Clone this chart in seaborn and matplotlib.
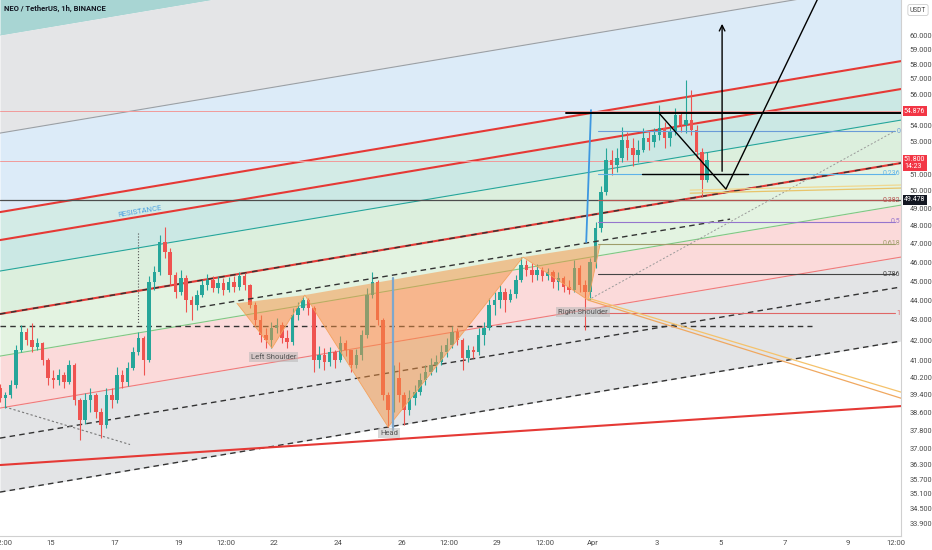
import matplotlib
matplotlib.use("Agg")
import matplotlib.pyplot as plt
import matplotlib.dates as mdates
import matplotlib.transforms as mtransforms
from matplotlib.ticker import FixedLocator, FixedFormatter, NullLocator
import numpy as np
import pandas as pd
import seaborn as sns

sns.set_theme(style="white")
plt.rcParams["font.family"] = ["Roboto", "DejaVu Sans"]

# 4h candles, Mar 13 08:00 -> Apr 4 12:00
first_open = 39.71
closes = [39.24, 39.38, 39.85, 41.51, 42.39, 42.00, 41.66, 41.86, 41.03, 40.17,
          40.08, 40.32, 39.99, 40.79, 39.15, 38.25, 39.15, 39.38, 38.61, 38.03,
          39.38, 39.15, 40.32, 39.99, 40.65, 41.41, 42.10, 41.03, 44.95, 45.48,
          47.10, 46.55, 45.32, 44.43, 45.16, 44.01, 43.75, 44.27, 44.79, 45.05,
          44.63, 44.89, 44.53, 44.95, 44.69, 45.26, 44.79, 43.75, 42.99, 42.25,
          42.00, 42.59, 42.74, 42.10, 41.90, 43.25, 43.60, 44.01, 43.60, 41.03,
          41.27, 40.94, 41.41, 41.03, 41.86, 41.51, 40.79, 41.27, 42.25, 44.27,
          44.95, 42.99, 39.38, 38.70, 40.17, 39.38, 38.70, 39.24, 39.52, 40.08,
          40.46, 40.79, 40.94, 41.41, 41.76, 42.39, 42.00, 41.13, 41.51, 41.41,
          42.25, 42.59, 43.75, 44.01, 44.43, 44.01, 44.32, 45.05, 45.85, 45.58,
          45.32, 45.58, 45.26, 45.48, 44.95, 45.16, 44.69, 44.53, 45.69, 44.79,
          44.43, 46.01, 47.87, 49.93, 51.84, 51.54, 51.96, 53.07, 52.57, 52.15,
          52.45, 53.19, 52.94, 53.38, 53.82, 53.19, 53.57, 54.64, 54.00, 54.32,
          53.69, 52.33, 50.64, 51.80]
highs = [39.89, 39.52, 40.08, 41.76, 42.74, 42.59, 42.84, 42.10, 41.90, 41.13,
         40.55, 40.60, 40.46, 41.03, 40.89, 39.24, 39.47, 39.71, 39.47, 38.79,
         39.71, 39.71, 40.70, 40.55, 40.94, 41.66, 42.39, 42.20, 45.26, 45.80,
         47.49, 47.93, 46.77, 45.48, 45.58, 45.32, 44.22, 44.53, 45.05, 45.37,
         45.26, 45.26, 45.16, 45.21, 45.26, 45.48, 45.42, 44.84, 43.91, 43.25,
         42.59, 42.89, 43.09, 42.89, 42.49, 43.60, 43.91, 44.22, 44.11, 43.70,
         41.71, 41.61, 41.66, 41.51, 42.20, 42.00, 41.51, 41.56, 42.49, 44.63,
         45.48, 45.05, 43.09, 39.52, 40.79, 40.94, 39.52, 39.61, 39.85, 40.41,
         40.79, 41.13, 41.27, 41.76, 42.10, 42.69, 42.59, 42.10, 41.76, 41.71,
         42.59, 42.89, 44.11, 44.43, 44.79, 44.63, 44.58, 45.32, 46.28, 46.12,
         45.96, 45.91, 45.74, 45.69, 45.58, 45.48, 45.26, 45.05, 46.12, 45.85,
         45.05, 46.23, 48.21, 50.29, 52.57, 52.45, 52.57, 53.88, 53.57, 53.19,
         53.07, 53.82, 53.69, 53.82, 55.28, 54.19, 54.00, 55.09, 54.77, 56.92,
         56.26, 54.00, 52.57, 52.33]
lows = [39.06, 38.79, 39.24, 39.71, 41.41, 41.76, 41.41, 41.51, 40.79, 39.85,
        39.71, 39.85, 39.71, 39.89, 38.93, 37.36, 38.07, 38.61, 38.34, 37.45,
        37.89, 38.79, 39.02, 39.71, 39.80, 40.55, 41.27, 40.32, 40.94, 44.53,
        45.32, 46.23, 44.79, 44.11, 44.27, 43.40, 42.99, 43.50, 44.17, 44.53,
        44.43, 44.37, 44.27, 44.43, 44.43, 44.53, 44.53, 43.60, 42.74, 41.90,
        41.61, 41.61, 42.35, 41.86, 41.61, 41.76, 42.99, 43.50, 43.25, 40.46,
        40.65, 40.55, 40.74, 40.65, 40.94, 41.22, 40.46, 40.65, 41.03, 42.10,
        44.11, 42.74, 39.15, 37.94, 38.61, 39.06, 38.03, 38.47, 38.93, 39.38,
        39.85, 40.32, 40.46, 40.79, 41.17, 41.61, 41.76, 40.55, 40.94, 41.13,
        41.27, 41.76, 42.49, 43.25, 43.60, 43.40, 43.91, 44.11, 44.95, 45.26,
        44.95, 45.05, 45.00, 45.05, 44.63, 44.53, 44.43, 44.32, 44.43, 44.43,
        42.49, 44.01, 45.69, 47.65, 49.76, 50.94, 51.12, 51.72, 51.84, 51.48,
        51.72, 52.33, 52.45, 52.64, 53.07, 52.57, 52.70, 53.38, 53.57, 53.51,
        53.38, 51.96, 49.64, 50.52]

# view edges
T_LEFT, T_RIGHT = "2021-03-13 09:55", "2021-04-10 15:48"
Y_MIN, Y_MAX = 33.40, 62.51

# fib-channel lines, price at left and right edge of the view
chan_left = [60.00, 53.50, 48.78, 47.21, 45.53, 43.30, 41.22, 38.79, 35.16]
chan_right = [71.59, 63.84, 58.20, 56.33, 54.32, 51.66, 49.18, 46.28, 41.95]
band_colors = ["#e4e5e7", "#dcebf8", "#d3ebe6", "#cbe8e4", "#dcefdd",
               "#e3f3e1", "#fbdada", "#e3e4e6"]
mid_dash = [37.45, 44.69]
bottom_trend = [36.29, 38.88]

# horizontal price lines
h_pink = [54.876, 51.80]
h_dark = 49.478
h_dash_price, h_dash_end = 42.69, "2021-04-07 21:00"

# head & shoulders
hs_times = ["2021-03-20 20:10", "2021-03-21 22:35", "2021-03-22 23:17", "2021-03-25 13:55",
            "2021-03-29 19:26", "2021-03-31 20:24", "2021-04-01 05:17"]
hs_prices = [43.85, 41.61, 44.27, 37.94, 46.28, 44.01, 46.93]
hs_labels = ["Left Shoulder", "Head", "Right Shoulder"]
hs_label_times = ["2021-03-21 23:31", "2021-03-25 14:38", "2021-03-31 16:34"]
hs_label_prices = [41.17, 37.67, 43.40]
neck_times = ["2021-03-19 16:24", "2021-04-05 07:12"]
neck_prices = [43.65, 48.38]

# fib retracement
fib_labels = ["0", "0.236", "0.382", "0.5", "0.618", "0.786", "1"]
fib_prices = [53.63, 51.01, 49.45, 48.22, 47.02, 45.37, 43.35]
fib_colors = ["#6a9bd8", "#5fb3e8", "#b5534f", "#9575cd", "#9e9d6a", "#444444", "#e06666"]
fib_start, fib_end = "2021-04-01 03:50", "2021-04-10 11:17"
fib_trend_times = ["2021-03-31 20:24", "2021-04-10 11:17"]
fib_trend_prices = [44.01, 53.63]

tick_times = ["2021-03-13 12:00", "2021-03-15", "2021-03-17", "2021-03-19", "2021-03-20 12:00",
              "2021-03-22", "2021-03-24", "2021-03-26", "2021-03-27 12:00", "2021-03-29",
              "2021-03-30 12:00", "2021-04-01", "2021-04-03", "2021-04-05", "2021-04-07",
              "2021-04-09", "2021-04-10 12:00"]
tick_labels = ["12:00", "15", "17", "19", "12:00", "22", "24", "26", "12:00", "29",
               "12:00", "Apr", "3", "5", "7", "9", "12:00"]
ytick_vals = [60, 59, 58, 57, 56, 54, 53, 51, 50, 49, 48, 47, 46, 45, 44, 43, 42, 41,
              40.2, 39.4, 38.6, 37.8, 37.0, 36.3, 35.7, 35.1, 34.5, 33.9]


def dn(s):
    return mdates.date2num(pd.Timestamp(s))


fig = plt.figure(figsize=(9.32, 5.5), dpi=100)
fig.patch.set_facecolor("white")
ax = fig.add_axes([0, 14 / 550, 901 / 932, 536 / 550])
ax.set_facecolor("white")
ax.set_yscale("log")

xl, xr = dn(T_LEFT), dn(T_RIGHT)
xs = [xl, xr]

# channel bands
ax.fill_between(xs, [chan_left[0], chan_right[0]], [90, 90], color="#a8d5d3", lw=0, zorder=0)
for k, col in enumerate(band_colors):
    ax.fill_between(xs, [chan_left[k + 1], chan_right[k + 1]], [chan_left[k], chan_right[k]],
                    color=col, lw=0, zorder=0)

chan_styles = [
    dict(color="#a8d5d3", lw=0.5),
    dict(color="#9aa0a6", lw=0.8),
    dict(color="#e53935", lw=1.5),
    dict(color="#e53935", lw=1.5),
    dict(color="#26a69a", lw=0.8),
    dict(color="#e53935", lw=1.5),
    dict(color="#81c784", lw=0.8),
    dict(color="#ef7b7b", lw=0.8),
    dict(color="#333333", lw=1.0, ls=(0, (4, 3))),
]
for k, st in enumerate(chan_styles):
    ax.plot(xs, [chan_left[k], chan_right[k]], zorder=1, **st)
ax.plot(xs, [chan_left[5], chan_right[5]], color="#333333", lw=1.0, ls=(0, (4, 4)), zorder=1)
ax.plot(xs, mid_dash, color="#333333", lw=1.0, ls=(0, (4, 3)), zorder=1)
ax.plot(xs, bottom_trend, color="#e53935", lw=1.5, zorder=1)

# horizontal lines
for p in h_pink:
    ax.axhline(p, color="#f19a9a", lw=0.7, zorder=1)
ax.axhline(h_dark, color="#4d4d4d", lw=0.9, zorder=1)
ax.plot([xl, dn(h_dash_end)], [h_dash_price] * 2, color="#333333", lw=1.0, ls=(0, (4, 3)), zorder=1)

# small dotted helpers on the left
ax.plot([dn("2021-03-17 17:45")] * 2, [47.60, 42.84], color="#555555", lw=0.8, ls=":", zorder=1)
ax.plot([dn("2021-03-13 13:40"), dn("2021-03-17 11:45")], [38.84, 37.17],
        color="#777777", lw=0.8, ls=(0, (2, 2)), zorder=1)

# candles
times = pd.date_range("2021-03-13 08:00", periods=len(closes), freq="4h")
cx = mdates.date2num(times.to_pydatetime()) + 2 / 24
c = np.array(closes)
o = np.array([first_open] + closes[:-1])
up = c >= o
cols = np.where(up, "#26a69a", "#ef5350")
ax.vlines(cx, lows, highs, colors=cols, lw=0.8, zorder=3)
ax.bar(cx, np.abs(c - o) + 0.02, bottom=np.minimum(o, c), width=0.11, color=cols, lw=0, zorder=3)

# head & shoulders
hx = [dn(t) for t in hs_times]
for a, b, d in [(0, 1, 2), (2, 3, 4), (4, 5, 6)]:
    ax.fill([hx[a], hx[b], hx[d]], [hs_prices[a], hs_prices[b], hs_prices[d]],
            color="#f59342", alpha=0.5, lw=0, zorder=4)
ax.plot(hx, hs_prices, color="#f5a25d", lw=0.6, zorder=4)
sns.lineplot(x=[dn(t) for t in neck_times], y=neck_prices, ax=ax, color="#333333",
             lw=1.0, linestyle=(0, (4, 3)), zorder=4)
for lab, t, p in zip(hs_labels, hs_label_times, hs_label_prices):
    ax.text(dn(t), p, lab, ha="center", va="center", fontsize=5.5, color="#555555", zorder=6,
            bbox=dict(boxstyle="square,pad=0.25", fc="#b8b8b8", ec="none", alpha=0.55))

# blue range lines
ax.plot([dn("2021-03-25 17:46")] * 2, [45.16, 37.80], color="#7fa7cc", lw=1.6, zorder=5)
ax.plot([dn("2021-03-31 22:34"), dn("2021-03-31 18:58")], [54.96, 47.10], color="#3d97e0", lw=1.3, zorder=5)

ax.text(dn("2021-03-17 19:26"), 48.84, "RESISTANCE", color="#4a9fe0", fontsize=5.5,
        rotation=9.5, rotation_mode="anchor", ha="center", va="center", zorder=5)

# fib retracement, labels right-aligned at the scale edge
for lab, p, col in zip(fib_labels, fib_prices, fib_colors):
    ax.plot([dn(fib_start), dn(fib_end)], [p, p], color=col, lw=0.8, zorder=4)
    ax.text(xr - 0.02, p, lab, color=col, fontsize=5, ha="right", va="center",
            clip_on=True, zorder=5,
            bbox=dict(boxstyle="square,pad=0.05", fc="white", ec="none", alpha=0.0))
sns.lineplot(x=[dn(t) for t in fib_trend_times], y=fib_trend_prices, ax=ax, color="#9a9a9a",
             lw=0.7, linestyle=(0, (2, 2)), zorder=4)

# orange / yellow pairs
ax.plot([dn("2021-03-31 20:24"), xr], [44.11, 39.52], color="#f5c26b", lw=0.9, zorder=4)
ax.plot([dn("2021-03-31 20:24"), xr], [44.01, 39.24], color="#f0a860", lw=0.9, zorder=4)
ax.plot([dn("2021-04-04 01:12"), xr], [49.87, 50.17], color="#e8c46a", lw=0.9, zorder=4)
ax.plot([dn("2021-04-04 01:12"), xr], [50.05, 50.35], color="#f0d890", lw=0.9, zorder=4)

# black projection drawings
ax.plot([dn("2021-03-31 03:50"), xr], [54.77, 54.77], color="black", lw=1.4, zorder=5)
ax.plot([dn("2021-04-02 12:58"), dn("2021-04-05 20:38")], [51.0, 51.0], color="black", lw=1.0, zorder=5)
ax.plot([dn("2021-04-03 01:41"), dn("2021-04-05 04:05"), dn("2021-04-08 04:19")],
        [54.77, 50.11, 63.24], color="black", lw=1.0, zorder=5)
ax.annotate("", xy=(dn("2021-04-05 01:12"), 60.99), xytext=(dn("2021-04-05 01:12"), 51.0),
            arrowprops=dict(arrowstyle="->", color="black", lw=1.0, mutation_scale=10), zorder=5)

# axes
ax.set_xlim(xl, xr)
ax.set_ylim(Y_MIN, Y_MAX)
ax.yaxis.tick_right()
ax.yaxis.set_major_locator(FixedLocator(ytick_vals))
ax.yaxis.set_major_formatter(FixedFormatter([f"{v:.3f}" for v in ytick_vals]))
ax.yaxis.set_minor_locator(NullLocator())
ax.xaxis.set_major_locator(FixedLocator([dn(t) for t in tick_times]))
ax.xaxis.set_major_formatter(FixedFormatter(tick_labels))
ax.xaxis.set_minor_locator(NullLocator())
ax.tick_params(axis="y", length=0, pad=6, labelsize=5.3, labelcolor="#4a4a4a")
ax.tick_params(axis="x", length=0, pad=3, labelsize=5.5, labelcolor="#4a4a4a")
for s in ["left", "top"]:
    ax.spines[s].set_visible(False)
for s in ["right", "bottom"]:
    ax.spines[s].set_color("#d0d0d0")
    ax.spines[s].set_linewidth(0.8)
ax.grid(False)

# price tags on the scale
trans = mtransforms.blended_transform_factory(fig.transFigure, ax.transData)
tags = [(54.876, "54.876", "#f23645"), (51.65, "51.800\n14:23", "#f23645"), (49.478, "49.478", "#131722")]
for p, txt, col in tags:
    ax.text(904 / 932, p, txt, transform=trans, ha="left", va="center", fontsize=5,
            color="white", linespacing=0.95, clip_on=False, zorder=10,
            bbox=dict(boxstyle="square,pad=0.2", fc=col, ec="none"))
fig.text(918 / 932, 1 - 10 / 550, "USDT", ha="center", va="center", fontsize=4.8, color="#4a4a4a",
         bbox=dict(boxstyle="round,pad=0.3", fc="white", ec="#cccccc", lw=0.6))
fig.text(4 / 932, 1 - 8 / 550, "NEO / TetherUS, 1h, BINANCE", ha="left", va="center",
         fontsize=5.5, fontweight="bold", color="#131722")

fig.savefig("out.png", dpi=100)
